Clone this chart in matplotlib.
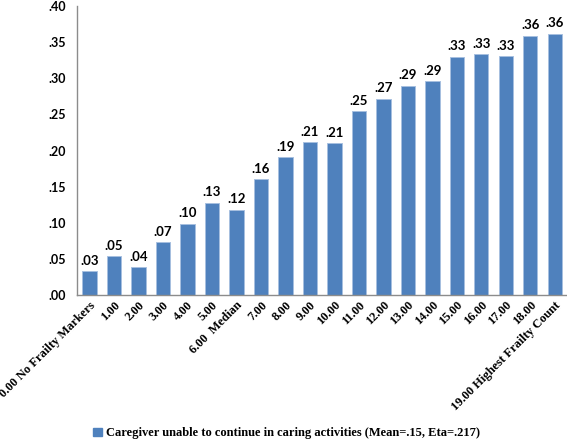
import matplotlib
matplotlib.use("Agg")
import matplotlib.pyplot as plt
from matplotlib.patches import Patch

# frailty count categories and proportion of caregivers unable to continue
categories = ["0.00 No Frailty Markers", "1.00", "2.00", "3.00", "4.00", "5.00",
              "6.00  Median", "7.00", "8.00", "9.00", "10.00", "11.00", "12.00",
              "13.00", "14.00", "15.00", "16.00", "17.00", "18.00",
              "19.00 Highest Frailty Count"]
values = [0.033, 0.054, 0.039, 0.073, 0.099, 0.128, 0.118, 0.160, 0.191, 0.212,
          0.210, 0.255, 0.272, 0.290, 0.296, 0.330, 0.334, 0.331, 0.359, 0.362]
value_labels = [".03", ".05", ".04", ".07", ".10", ".13", ".12", ".16", ".19", ".21",
                ".21", ".25", ".27", ".29", ".29", ".33", ".33", ".33", ".36", ".36"]
y_ticks = [0.0, 0.05, 0.10, 0.15, 0.20, 0.25, 0.30, 0.35, 0.40]
y_tick_labels = [".00", ".05", ".10", ".15", ".20", ".25", ".30", ".35", ".40"]
legend_label = "Caregiver unable to continue in caring activities (Mean=.15, Eta=.217)"

bar_color = "#4F81BD"
serif = "Liberation Serif"
sans = "Lato"

fig = plt.figure(figsize=(5.67, 4.41), dpi=100)
ax = fig.add_axes([0.136, 0.331, 0.864, 0.655])

x = list(range(len(categories)))
ax.bar(x, values, width=0.59, color=bar_color, edgecolor="#A7C0E0", linewidth=0.7)

# value labels on top of each bar
for xi, v, lab in zip(x, values, value_labels):
    ax.text(xi, v + 0.006, lab, ha="center", va="bottom", fontsize=9.5,
            fontweight="bold", family=sans)

ax.set_xlim(-0.5, len(categories) - 0.5)
ax.set_ylim(0, 0.40)
ax.set_yticks(y_ticks)
ax.set_yticklabels(y_tick_labels, fontsize=9, fontweight="bold", family=sans)
ax.set_xticks(x)
ax.set_xticklabels(categories, rotation=45, ha="right", rotation_mode="anchor",
                   fontsize=9, fontweight="bold", family=serif)
ax.tick_params(axis="both", length=0)
ax.tick_params(axis="y", pad=8)
ax.tick_params(axis="x", pad=3)

for side in ["top", "right"]:
    ax.spines[side].set_visible(False)
for side in ["left", "bottom"]:
    ax.spines[side].set_color("#8C8C8C")
    ax.spines[side].set_linewidth(1.0)

handle = Patch(facecolor=bar_color, edgecolor=bar_color, label=legend_label)
fig.legend(handles=[handle], loc="lower center", bbox_to_anchor=(0.505, -0.022),
           frameon=False, handlelength=0.7, handleheight=0.7, handletextpad=0.3,
           prop={"family": serif, "weight": "bold", "size": 9})

fig.savefig("out.png", dpi=100)
